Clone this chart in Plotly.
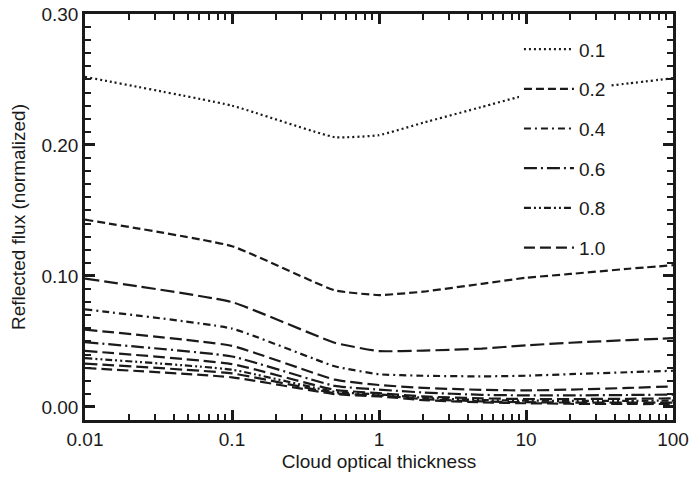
import plotly.graph_objects as go

# Cloud optical thickness sample points
tau = [0.01, 0.1, 0.5, 1, 2, 5, 10, 20, 50, 100]

# Reflected flux (normalized) for each parameter value
flux_01 = [0.252, 0.230, 0.206, 0.2075, 0.217, 0.229, 0.238, 0.242, 0.247, 0.251]
flux_02 = [0.143, 0.1227, 0.089, 0.0854, 0.088, 0.094, 0.0986, 0.1015, 0.1055, 0.1082]
flux_03 = [0.098, 0.080, 0.049, 0.0426, 0.043, 0.0445, 0.047, 0.049, 0.051, 0.0525]
flux_04 = [0.0745, 0.0598, 0.031, 0.0249, 0.0238, 0.0233, 0.0238, 0.025, 0.0265, 0.0276]
flux_05 = [0.059, 0.0466, 0.0208, 0.0167, 0.0145, 0.013, 0.0126, 0.0132, 0.0145, 0.0157]
flux_06 = [0.0494, 0.0385, 0.016, 0.0132, 0.011, 0.0092, 0.0088, 0.0088, 0.0091, 0.0094]
flux_07 = [0.0428, 0.0327, 0.013, 0.0105, 0.008, 0.0065, 0.006, 0.006, 0.0062, 0.0065]
flux_08 = [0.0372, 0.0284, 0.0115, 0.0095, 0.007, 0.0052, 0.0048, 0.0046, 0.0046, 0.0048]
flux_09 = [0.033, 0.0256, 0.0105, 0.0088, 0.006, 0.0042, 0.0036, 0.0033, 0.0032, 0.0033]
flux_10 = [0.0297, 0.0226, 0.0098, 0.008, 0.0052, 0.0035, 0.0028, 0.0024, 0.0022, 0.0022]

series_names = ["0.1", "0.2", "0.3", "0.4", "0.5", "0.6", "0.7", "0.8", "0.9", "1.0"]
series_values = [flux_01, flux_02, flux_03, flux_04, flux_05,
                 flux_06, flux_07, flux_08, flux_09, flux_10]
in_legend = [True, True, False, True, False, True, False, True, False, True]

x_tickvals = [0.01, 0.1, 1, 10, 100]
x_ticktext = ["0.01", "0.1", "1", "10", "100"]

dash_styles = {
    "0.1": "2px,3px",
    "0.2": "8px,4px",
    "0.3": "14px,5px",
    "0.4": "7px,4px,2px,4px",
    "0.5": "12px,5px",
    "0.6": "13px,4px,2px,4px",
    "0.7": "12px,5px",
    "0.8": "7px,3px,2px,3px,2px,3px",
    "0.9": "12px,5px",
    "1.0": "11px,5px",
}

ink = "#1a1a1a"
font_family = "Liberation Sans, Arial, sans-serif"
fsize = 19

fig = go.Figure()
for name, vals, show in zip(series_names, series_values, in_legend):
    fig.add_trace(go.Scatter(
        x=tau, y=vals, mode="lines", name=name,
        line=dict(color=ink, width=2.2, dash=dash_styles[name], shape="spline", smoothing=0.4),
        showlegend=show, legendgroup=name,
    ))

axis_common = dict(
    showline=True, linecolor=ink, linewidth=2.5, mirror="ticks",
    ticks="inside", tickcolor=ink, tickwidth=2.5, ticklen=10,
    showgrid=False, zeroline=False, automargin=False,
    tickfont=dict(family=font_family, size=fsize, color=ink),
)

fig.update_layout(
    width=689, height=479,
    margin=dict(l=85, r=16, t=14, b=59),
    paper_bgcolor="white", plot_bgcolor="white",
    font=dict(family=font_family, size=fsize, color=ink),
    xaxis=dict(
        type="log", range=[-2, 2],
        tickvals=x_tickvals, ticktext=x_ticktext,
        title=dict(text="Cloud optical thickness", font=dict(size=fsize), standoff=7),
        minor=dict(ticks="inside", ticklen=6, tickwidth=1.5, tickcolor=ink,
                   dtick="D1", showgrid=False),
        **axis_common,
    ),
    yaxis=dict(
        range=[-0.01, 0.30], dtick=0.1, tickformat=".2f",
        title=dict(text="Reflected flux (normalized)", font=dict(size=fsize), standoff=11),
        minor=dict(ticks="inside", ticklen=6, tickwidth=1.5, tickcolor=ink,
                   dtick=0.01, showgrid=False),
        **axis_common,
    ),
    legend=dict(
        x=0.738, y=0.96, xanchor="left", yanchor="top",
        bgcolor="white", borderwidth=0,
        font=dict(family=font_family, size=fsize, color=ink),
        tracegroupgap=12, itemwidth=50,
    ),
)

fig.write_html("out.html")
